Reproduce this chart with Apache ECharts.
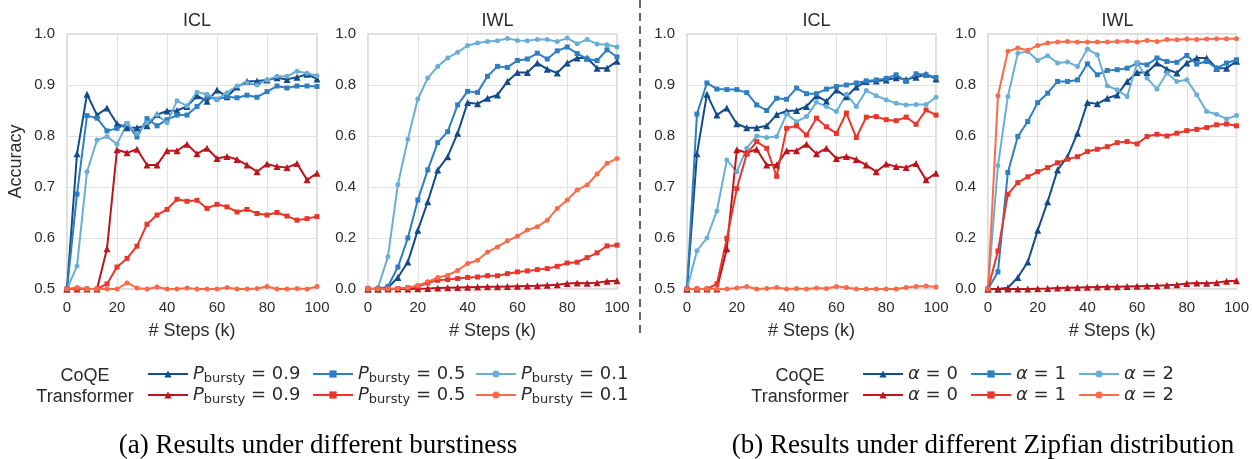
<!DOCTYPE html>
<html>
<head>
<meta charset="utf-8">
<script src="https://cdn.jsdelivr.net/npm/echarts@6/dist/echarts.min.js"></script>
<style>
  html, body { margin: 0; padding: 0; background: #fff; }
  #chart { width: 1252px; height: 459px; }
</style>
</head>
<body>
<div id="chart"></div>
<script>
// training steps (k)
let steps = [0, 4, 8, 12, 16, 20, 24, 28, 32, 36, 40, 44, 48, 52, 56, 60, 64, 68, 72, 76, 80, 84, 88, 92, 96, 100];

// shared runs: CoQE / Transformer with P_bursty = 0.9 (= alpha 0)
let coqeBaseIcl = [0.5, 0.765, 0.882, 0.841, 0.855, 0.824, 0.816, 0.816, 0.82, 0.842, 0.849, 0.85, 0.858, 0.879, 0.868, 0.89, 0.877, 0.896, 0.907, 0.908, 0.91, 0.914, 0.911, 0.915, 0.921, 0.912];
let tfBaseIcl = [0.5, 0.5, 0.5, 0.5, 0.579, 0.773, 0.767, 0.774, 0.743, 0.743, 0.771, 0.771, 0.784, 0.765, 0.776, 0.756, 0.76, 0.754, 0.743, 0.73, 0.745, 0.74, 0.738, 0.746, 0.714, 0.727];
let coqeBaseIwl = [0, 0, 0.005, 0.045, 0.106, 0.23, 0.342, 0.467, 0.519, 0.611, 0.731, 0.726, 0.748, 0.761, 0.814, 0.849, 0.849, 0.886, 0.862, 0.847, 0.886, 0.906, 0.906, 0.866, 0.866, 0.893];
let tfBaseIwl = [0, 0, 0, 0, 0, 0.001, 0.002, 0.004, 0.005, 0.006, 0.007, 0.008, 0.009, 0.009, 0.01, 0.011, 0.012, 0.013, 0.015, 0.017, 0.022, 0.024, 0.023, 0.025, 0.03, 0.032];

// (a) burstiness
let aIclCoqe05 = [0.5, 0.686, 0.84, 0.835, 0.81, 0.815, 0.824, 0.798, 0.834, 0.82, 0.832, 0.841, 0.841, 0.858, 0.877, 0.872, 0.877, 0.875, 0.88, 0.876, 0.887, 0.898, 0.894, 0.898, 0.898, 0.897];
let aIclCoqe01 = [0.5, 0.545, 0.73, 0.792, 0.799, 0.784, 0.824, 0.805, 0.826, 0.841, 0.826, 0.869, 0.859, 0.886, 0.882, 0.872, 0.885, 0.898, 0.904, 0.9, 0.91, 0.917, 0.917, 0.927, 0.923, 0.918];
let aIclTf05 = [0.5, 0.5, 0.5, 0.5, 0.51, 0.543, 0.56, 0.584, 0.627, 0.645, 0.656, 0.676, 0.672, 0.674, 0.658, 0.666, 0.661, 0.651, 0.656, 0.648, 0.645, 0.65, 0.643, 0.635, 0.638, 0.642];
let aIclTf01 = [0.5, 0.503, 0.5, 0.5, 0.5, 0.5, 0.512, 0.502, 0.5, 0.504, 0.5, 0.5, 0.502, 0.5, 0.5, 0.5, 0.503, 0.5, 0.5, 0.501, 0.505, 0.5, 0.5, 0.501, 0.5, 0.505];
let aIwlCoqe05 = [0, 0, 0.01, 0.086, 0.2, 0.349, 0.467, 0.574, 0.617, 0.722, 0.775, 0.771, 0.834, 0.873, 0.869, 0.896, 0.902, 0.925, 0.902, 0.934, 0.949, 0.923, 0.902, 0.896, 0.938, 0.91];
let aIwlCoqe01 = [0, 0.005, 0.126, 0.41, 0.587, 0.745, 0.827, 0.873, 0.906, 0.928, 0.955, 0.965, 0.971, 0.974, 0.982, 0.975, 0.974, 0.978, 0.978, 0.971, 0.984, 0.962, 0.978, 0.961, 0.958, 0.949];
let aIwlTf05 = [0, 0, 0, 0.002, 0.005, 0.01, 0.024, 0.034, 0.037, 0.041, 0.045, 0.047, 0.052, 0.052, 0.06, 0.067, 0.071, 0.076, 0.08, 0.089, 0.102, 0.105, 0.123, 0.142, 0.169, 0.172];
let aIwlTf01 = [0, 0, 0.001, 0.002, 0.005, 0.014, 0.028, 0.045, 0.054, 0.073, 0.1, 0.113, 0.145, 0.165, 0.189, 0.207, 0.231, 0.244, 0.27, 0.316, 0.349, 0.388, 0.408, 0.451, 0.493, 0.512];

// (b) zipfian alpha
let bIclCoqe1 = [0.5, 0.843, 0.904, 0.892, 0.891, 0.891, 0.885, 0.861, 0.85, 0.874, 0.872, 0.894, 0.883, 0.883, 0.892, 0.897, 0.9, 0.904, 0.908, 0.91, 0.913, 0.92, 0.907, 0.922, 0.92, 0.915];
let bIclCoqe2 = [0.5, 0.575, 0.6, 0.653, 0.753, 0.73, 0.776, 0.8, 0.797, 0.799, 0.843, 0.828, 0.838, 0.866, 0.858, 0.848, 0.882, 0.858, 0.889, 0.879, 0.871, 0.864, 0.861, 0.862, 0.862, 0.876];
let bIclTf1 = [0.5, 0.5, 0.5, 0.51, 0.599, 0.697, 0.765, 0.789, 0.776, 0.721, 0.815, 0.82, 0.802, 0.835, 0.818, 0.805, 0.845, 0.797, 0.837, 0.838, 0.832, 0.83, 0.837, 0.823, 0.851, 0.841];
let bIclTf2 = [0.5, 0.5, 0.5, 0.5, 0.5, 0.502, 0.505, 0.5, 0.501, 0.503, 0.5, 0.501, 0.5, 0.502, 0.501, 0.505, 0.503, 0.5, 0.5, 0.5, 0.5, 0.5, 0.503, 0.505, 0.506, 0.504];
let bIwlCoqe1 = [0, 0.067, 0.457, 0.598, 0.657, 0.731, 0.768, 0.814, 0.814, 0.82, 0.883, 0.84, 0.857, 0.86, 0.866, 0.886, 0.879, 0.906, 0.892, 0.889, 0.916, 0.882, 0.892, 0.866, 0.886, 0.899];
let bIwlCoqe2 = [0, 0.484, 0.755, 0.925, 0.931, 0.896, 0.915, 0.886, 0.89, 0.873, 0.941, 0.919, 0.797, 0.781, 0.755, 0.886, 0.827, 0.784, 0.847, 0.814, 0.821, 0.762, 0.696, 0.685, 0.667, 0.68];
let bIwlTf1 = [0, 0.149, 0.372, 0.417, 0.44, 0.46, 0.476, 0.495, 0.509, 0.519, 0.539, 0.548, 0.558, 0.574, 0.578, 0.569, 0.598, 0.607, 0.6, 0.611, 0.621, 0.626, 0.633, 0.644, 0.647, 0.64];
let bIwlTf2 = [0, 0.758, 0.932, 0.945, 0.936, 0.955, 0.965, 0.969, 0.971, 0.969, 0.969, 0.969, 0.969, 0.971, 0.972, 0.969, 0.975, 0.971, 0.978, 0.977, 0.98, 0.978, 0.98, 0.981, 0.981, 0.981];

let panelTitles = ['ICL', 'IWL', 'ICL', 'IWL'];
let captions = ['(a) Results under different burstiness', '(b) Results under different Zipfian distribution'];
let rowLabels = ['CoQE', 'Transformer'];

let colors = {
    b1: '#134b8b', b2: '#2f7ec1', b3: '#6aaed6',
    r1: '#bd151d', r2: '#e8362b', r3: '#fb6a4a'
};
let textColor = '#2b2b2b';
let font = 'Liberation Sans';

let grids = [
    { left: 67, top: 34, width: 250, height: 255 },
    { left: 368, top: 34, width: 249, height: 255 },
    { left: 687, top: 34, width: 249, height: 255 },
    { left: 988, top: 34, width: 249, height: 255 }
].map(g => Object.assign({ show: true, borderColor: '#d2d2d2', borderWidth: 1.5, backgroundColor: '#fff' }, g));

let xAxes = grids.map((g, i) => ({
    type: 'value', gridIndex: i, min: 0, max: 100, interval: 20,
    name: '# Steps (k)', nameLocation: 'middle', nameGap: 33,
    nameTextStyle: { fontSize: 18, color: textColor, fontFamily: font },
    axisLine: { show: false }, axisTick: { show: false },
    axisLabel: { fontSize: 15, color: textColor, fontFamily: font, margin: 11 },
    splitLine: { lineStyle: { color: '#e2e2e2', width: 1 } }
}));

let yAxes = grids.map((g, i) => {
    let icl = i % 2 === 0;
    return {
        type: 'value', gridIndex: i,
        min: icl ? 0.5 : 0, max: 1, interval: icl ? 0.1 : 0.2,
        name: i === 0 ? 'Accuracy' : '', nameLocation: 'middle', nameGap: 42,
        nameTextStyle: { fontSize: 18, color: textColor, fontFamily: font },
        axisLine: { show: false }, axisTick: { show: false },
        axisLabel: { fontSize: 15, color: textColor, fontFamily: font, margin: 12,
            formatter: v => v.toFixed(1) },
        splitLine: { lineStyle: { color: '#e2e2e2', width: 1 } }
    };
});

let sizes = { triangle: 7, rect: 5, circle: 5 };
function line(name, values, color, symbol, idx) {
    return {
        name: name, type: 'line', xAxisIndex: idx, yAxisIndex: idx,
        data: steps.map((s, k) => [s, values[k]]),
        symbol: symbol, symbolSize: sizes[symbol],
        itemStyle: { color: color }, lineStyle: { color: color, width: 2 },
        clip: true, animation: false
    };
}

let series = [
    line('a0.9c', coqeBaseIcl, colors.b1, 'triangle', 0),
    line('a0.5c', aIclCoqe05, colors.b2, 'rect', 0),
    line('a0.1c', aIclCoqe01, colors.b3, 'circle', 0),
    line('a0.9t', tfBaseIcl, colors.r1, 'triangle', 0),
    line('a0.5t', aIclTf05, colors.r2, 'rect', 0),
    line('a0.1t', aIclTf01, colors.r3, 'circle', 0),

    line('a0.9c', coqeBaseIwl, colors.b1, 'triangle', 1),
    line('a0.5c', aIwlCoqe05, colors.b2, 'rect', 1),
    line('a0.1c', aIwlCoqe01, colors.b3, 'circle', 1),
    line('a0.9t', tfBaseIwl, colors.r1, 'triangle', 1),
    line('a0.5t', aIwlTf05, colors.r2, 'rect', 1),
    line('a0.1t', aIwlTf01, colors.r3, 'circle', 1),

    line('b0c', coqeBaseIcl, colors.b1, 'triangle', 2),
    line('b1c', bIclCoqe1, colors.b2, 'rect', 2),
    line('b2c', bIclCoqe2, colors.b3, 'circle', 2),
    line('b0t', tfBaseIcl, colors.r1, 'triangle', 2),
    line('b1t', bIclTf1, colors.r2, 'rect', 2),
    line('b2t', bIclTf2, colors.r3, 'circle', 2),

    line('b0c', coqeBaseIwl, colors.b1, 'triangle', 3),
    line('b1c', bIwlCoqe1, colors.b2, 'rect', 3),
    line('b2c', bIwlCoqe2, colors.b3, 'circle', 3),
    line('b0t', tfBaseIwl, colors.r1, 'triangle', 3),
    line('b1t', bIwlTf1, colors.r2, 'rect', 3),
    line('b2t', bIwlTf2, colors.r3, 'circle', 3)
];

// legend: one component per entry so each sits where the figure has it
let legendLabel = {
    'a0.9c': '{p|P}{s|bursty}{n| = 0.9}', 'a0.5c': '{p|P}{s|bursty}{n| = 0.5}', 'a0.1c': '{p|P}{s|bursty}{n| = 0.1}',
    'a0.9t': '{p|P}{s|bursty}{n| = 0.9}', 'a0.5t': '{p|P}{s|bursty}{n| = 0.5}', 'a0.1t': '{p|P}{s|bursty}{n| = 0.1}',
    'b0c': '{p|α}{n| = 0}', 'b1c': '{p|α}{n| = 1}', 'b2c': '{p|α}{n| = 2}',
    'b0t': '{p|α}{n| = 0}', 'b1t': '{p|α}{n| = 1}', 'b2t': '{p|α}{n| = 2}'
};
let legendRows = [
    { names: ['a0.9c', 'a0.5c', 'a0.1c'], xs: [147, 312, 475], top: 365 },
    { names: ['a0.9t', 'a0.5t', 'a0.1t'], xs: [147, 312, 475], top: 386 },
    { names: ['b0c', 'b1c', 'b2c'], xs: [862, 970, 1078], top: 365 },
    { names: ['b0t', 'b1t', 'b2t'], xs: [862, 970, 1078], top: 386 }
];
let legends = [];
legendRows.forEach(row => {
    row.names.forEach((n, k) => {
        legends.push({
            data: [n], left: row.xs[k], top: row.top, padding: 0,
            itemWidth: 40, itemHeight: 9, selectedMode: false,
            formatter: name => legendLabel[name],
            textStyle: {
                color: textColor, fontFamily: 'DejaVu Sans', fontSize: 18,
                rich: {
                    p: { fontStyle: 'italic', fontSize: 18, fontFamily: 'DejaVu Sans', color: textColor },
                    s: { fontSize: 13, fontFamily: 'DejaVu Sans', color: textColor, padding: [10, 0, 0, 0] },
                    n: { fontSize: 18, fontFamily: 'DejaVu Sans', color: textColor }
                }
            }
        });
    });
});

let titles = grids.map((g, i) => ({
    text: panelTitles[i], left: g.left + g.width / 2, top: 7, textAlign: 'center',
    textStyle: { fontSize: 18, fontWeight: 'normal', color: textColor, fontFamily: font }
}));

let graphics = [
    { type: 'line', shape: { x1: 640, y1: 0, x2: 640, y2: 334 },
      style: { stroke: '#666', lineWidth: 2, lineDash: [8, 5] } },
    { type: 'text', x: 85, y: 376, style: { text: rowLabels[0], fontSize: 18, fontFamily: font, fill: textColor, textAlign: 'center', textVerticalAlign: 'middle' } },
    { type: 'text', x: 85, y: 397, style: { text: rowLabels[1], fontSize: 18, fontFamily: font, fill: textColor, textAlign: 'center', textVerticalAlign: 'middle' } },
    { type: 'text', x: 800, y: 376, style: { text: rowLabels[0], fontSize: 18, fontFamily: font, fill: textColor, textAlign: 'center', textVerticalAlign: 'middle' } },
    { type: 'text', x: 800, y: 397, style: { text: rowLabels[1], fontSize: 18, fontFamily: font, fill: textColor, textAlign: 'center', textVerticalAlign: 'middle' } },
    { type: 'text', x: 318, y: 446, style: { text: captions[0], fontSize: 27, fontFamily: 'Liberation Serif', fill: '#000', textAlign: 'center', textVerticalAlign: 'middle' } },
    { type: 'text', x: 983, y: 446, style: { text: captions[1], fontSize: 27, fontFamily: 'Liberation Serif', fill: '#000', textAlign: 'center', textVerticalAlign: 'middle' } }
];

let chart = echarts.init(document.getElementById('chart'));
chart.setOption({
    backgroundColor: '#fff',
    animation: false,
    title: titles,
    legend: legends,
    grid: grids,
    xAxis: xAxes,
    yAxis: yAxes,
    series: series,
    graphic: graphics
});
</script>
</body>
</html>
